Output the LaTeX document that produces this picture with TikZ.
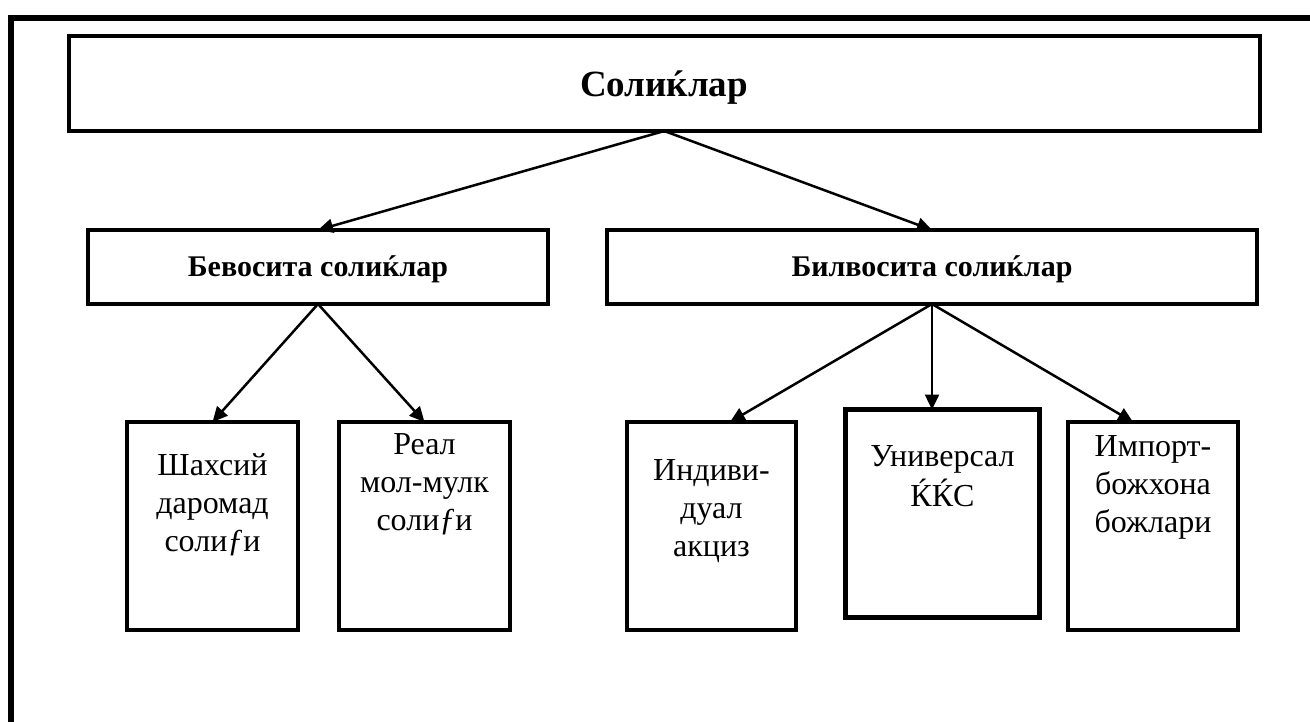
\documentclass[tikz,border=0pt]{standalone}
\usepackage{fontspec}
\setmainfont{Liberation Serif}
\usetikzlibrary{arrows.meta,calc}
\begin{document}
\begin{tikzpicture}[x=1pt,y=-1pt,
  box/.style={draw,line width=4pt,inner sep=0pt,outer sep=0pt,anchor=north west},
  toptxt/.style={font=\bfseries\fontsize{37}{44}\selectfont,anchor=base,inner sep=0pt},
  midtxt/.style={font=\bfseries\fontsize{30}{36}\selectfont,anchor=base,inner sep=0pt},
  lowtxt/.style={font=\fontsize{32}{38}\selectfont,anchor=north,inner sep=0pt,align=center},
  arr/.style={line width=2.5pt,-{Triangle[length=15pt,width=14pt]}}]
\useasboundingbox (0,0) rectangle (1310,722);
\draw[line width=6pt] (11,740) -- (11,18) -- (1330,18);
% boxes
\node[box,minimum width=1191.5pt,minimum height=95pt] (top) at (68.5,36) {};
\node[box,minimum width=460pt,minimum height=74pt] (bev) at (88,230) {};
\node[box,minimum width=650pt,minimum height=74pt] (bil) at (607,230) {};
\node[box,minimum width=171pt,minimum height=208pt] (b1) at (127,422) {};
\node[box,minimum width=171pt,minimum height=208pt] (b2) at (339,422) {};
\node[box,minimum width=169pt,minimum height=208pt] (b3) at (627,422) {};
\node[box,line width=5pt,minimum width=194pt,minimum height=208pt] (b4) at (845.5,409.5) {};
\node[box,minimum width=170pt,minimum height=208pt] (b5) at (1068,422) {};
% texts
\node[toptxt] (t0) at (664,97) {Солиќлар};
\node[midtxt] (t1) at (318,277) {Бевосита солиќлар};
\node[midtxt] (t2) at (932,277) {Билвосита солиќлар};
\node[lowtxt] (t3) at (212.5,448.4) {\strut Шахсий\\даромад\\соли\textit{ƒ}и};
\node[lowtxt] (t4) at (424.5,427.4) {\strut Реал\\мол-мулк\\соли\textit{ƒ}и};
\node[lowtxt] (t5) at (711.5,453.4) {\strut Индиви-\\дуал\\акциз};
\node[lowtxt] (t6) at (942.5,439.4) {\strut Универсал\\ЌЌС};
\node[lowtxt] (t7) at (1153,429.4) {\strut Импорт-\\божхона\\божлари};
% arrows
\draw[arr] (top.south) -- (bev.north);
\draw[arr] (top.south) -- (bil.north);
\draw[arr] (bev.south) -- (b1.north);
\draw[arr] (bev.south) -- (b2.north);
\draw[arr] (bil.south) -- ([xshift=18.5pt]b3.north);
\draw[arr] (bil.south) -- (bil.south |- b4.north);
\draw[arr] (bil.south) -- ([xshift=-20pt]b5.north);
\end{tikzpicture}
\end{document}
